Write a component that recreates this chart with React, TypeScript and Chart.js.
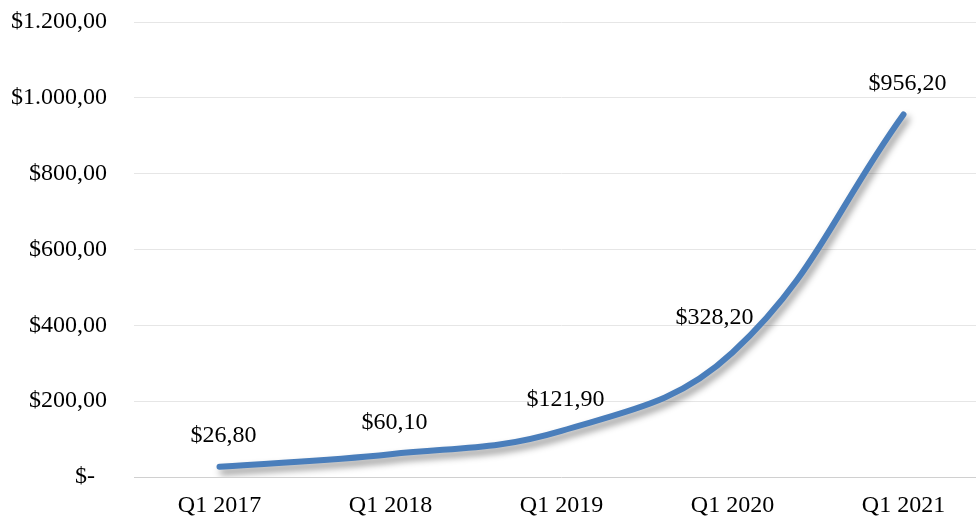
import React, { useEffect, useRef } from "react";
import { Chart, registerables } from "chart.js";

Chart.register(...registerables);

const categories = ["Q1 2017", "Q1 2018", "Q1 2019", "Q1 2020", "Q1 2021"];
const values = [26.8, 60.1, 121.9, 328.2, 956.2];
const yTickLabels = ["$-\u2002", "$200,00", "$400,00", "$600,00", "$800,00", "$1.000,00", "$1.200,00"];

const FONT = '"Liberation Serif", "Times New Roman", serif';
// per-label offsets for data labels (style only)
const labelOffsets = [
  [4, -31],
  [4, -32],
  [4, -31],
  [-18, -35],
  [4, -31],
];

const fmt = (v: number) => "$" + v.toFixed(2).replace(".", ",");

const shadowPlugin = {
  id: "lineShadow",
  beforeDatasetDraw(chart: any) {
    const ctx = chart.ctx;
    ctx.save();
    ctx.shadowColor = "rgba(0,0,0,0.42)";
    ctx.shadowBlur = 7;
    ctx.shadowOffsetX = 3;
    ctx.shadowOffsetY = 5;
  },
  afterDatasetDraw(chart: any) {
    chart.ctx.restore();
  },
};

const labelPlugin = {
  id: "dataLabels",
  afterDatasetsDraw(chart: any) {
    const ctx = chart.ctx;
    const meta = chart.getDatasetMeta(0);
    ctx.save();
    ctx.font = `24px ${FONT}`;
    ctx.fillStyle = "#000";
    ctx.textAlign = "center";
    ctx.textBaseline = "middle";
    meta.data.forEach((pt: any, i: number) => {
      const [dx, dy] = labelOffsets[i];
      ctx.fillText(fmt(values[i]), pt.x + dx, pt.y + dy);
    });
    ctx.restore();
  },
};

export default function App() {
  const ref = useRef<HTMLCanvasElement>(null);
  useEffect(() => {
    if (!ref.current) return;
    const chart = new Chart(ref.current, {
      type: "line",
      data: {
        labels: categories,
        datasets: [
          {
            data: values,
            borderColor: "#4a7ebb",
            borderWidth: 6,
            borderCapStyle: "round",
            borderJoinStyle: "round",
            tension: 0.4,
            pointRadius: 0,
            fill: false,
          },
        ],
      },
      options: {
        animation: false,
        responsive: false,
        layout: { padding: { top: 22, left: 0, right: 0, bottom: 0 } },
        plugins: { legend: { display: false }, tooltip: { enabled: false } },
        scales: {
          x: {
            offset: true,
            grid: { display: false },
            border: { display: false },
            ticks: { color: "#000", font: { family: FONT, size: 24 }, padding: 6, maxRotation: 0 },
            afterFit(scale: any) {
              scale.height = 40;
              scale.paddingLeft = 0;
              scale.paddingRight = 0;
            },
          },
          y: {
            min: 0,
            max: 1200,
            ticks: {
              stepSize: 200,
              color: "#000",
              font: { family: FONT, size: 24 },
              padding: 27,
              callback: (_v: any, i: number) => yTickLabels[i],
            },
            grid: {
              drawTicks: false,
              color: (c: any) => (c.tick && c.tick.value === 0 ? "#d0d0d0" : "#e6e6e6"),
              lineWidth: 1,
            },
            border: { display: false },
            afterFit(scale: any) {
              scale.width = 134;
              scale.paddingTop = 0;
              scale.paddingBottom = 0;
            },
          },
        },
      },
      plugins: [shadowPlugin, labelPlugin],
    });
    return () => chart.destroy();
  }, []);
  return (
    <div style={{ position: "fixed", left: 0, top: 0, width: 976, height: 517, overflow: "hidden", background: "#fff" }}>
      <canvas ref={ref} width={989} height={517} style={{ display: "block" }} />
    </div>
  );
}
